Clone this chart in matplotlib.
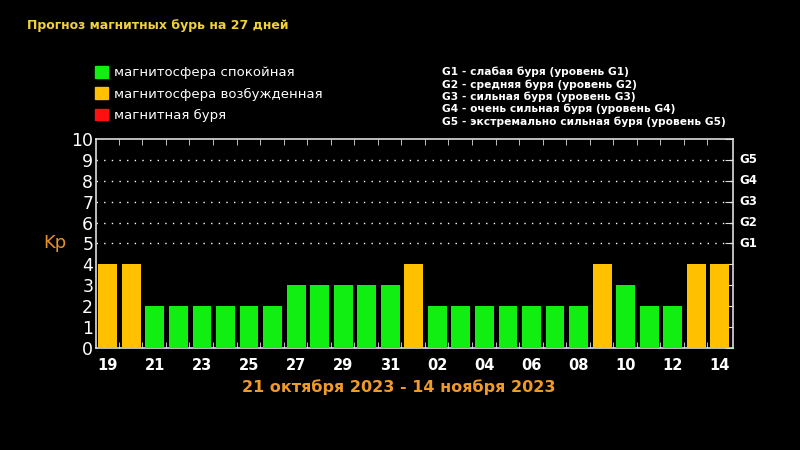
import matplotlib.pyplot as plt
from matplotlib.patches import Patch

# days from 19 Oct to 14 Nov 2023
days = ['19', '20', '21', '22', '23', '24', '25', '26', '27', '28', '29', '30', '31',
        '01', '02', '03', '04', '05', '06', '07', '08', '09', '10', '11', '12', '13', '14']
kp = [4, 4, 2, 2, 2, 2, 2, 2, 3, 3, 3, 3, 3,
      4, 2, 2, 2, 2, 2, 2, 2, 4, 3, 2, 2, 4, 4]
g_levels = ['G1', 'G2', 'G3', 'G4', 'G5']
g_kp = [5, 6, 7, 8, 9]
g_text = ['G1 - слабая буря (уровень G1)',
          'G2 - средняя буря (уровень G2)',
          'G3 - сильная буря (уровень G3)',
          'G4 - очень сильная буря (уровень G4)',
          'G5 - экстремально сильная буря (уровень G5)']

green = '#11ee11'
orange = '#ffc000'
red = '#ff1010'

def bar_color(v):
    if v >= 5:
        return red
    if v >= 4:
        return orange
    return green

fig = plt.figure(figsize=(8, 4.5), dpi=100, facecolor='black')
ax = fig.add_axes([0.12, 0.227, 0.796, 0.464])
ax.set_facecolor('black')

x = list(range(len(days)))
ax.bar(x, kp, width=0.8, color=[bar_color(v) for v in kp], zorder=3)

# dotted grid only at storm levels
ax.hlines(g_kp, -0.5, 26.55, colors='white', linestyles=(0, (1, 4.5)), linewidth=1.0, zorder=1)
for lvl, k in zip(g_levels, g_kp):
    ax.text(26.85, k, lvl, color='white', fontsize=8.5, fontweight='bold',
            va='center', ha='left')

ax.set_xlim(-0.5, 26.55)
ax.set_ylim(0, 10)

for s in ax.spines.values():
    s.set_color('#dddddd')
    s.set_linewidth(1.2)

ax.set_yticks(range(0, 11))
ax.set_yticklabels([str(i) for i in range(0, 11)], color='white', fontsize=12.5)
ax.tick_params(axis='y', which='major', left=False, right=True, direction='in',
               length=6, color='#dddddd', pad=2)
ax.set_xticks(x[::2])
ax.set_xticklabels(days[::2], color='white', fontsize=10.5, fontweight='bold')
ax.tick_params(axis='x', which='major', length=0, pad=7)
ax.set_xticks([i + 0.47 for i in x[:-1]], minor=True)
ax.tick_params(axis='x', which='minor', top=True, bottom=True, direction='in',
               length=4, color='#dddddd')

ax.set_ylabel('Kp', color='#e8902a', fontsize=13, rotation=0, va='center')
ax.yaxis.set_label_coords(-0.065, 0.5)

fig.text(0.034, 0.944, 'Прогноз магнитных бурь на 27 дней', color='#f2d03a',
         fontsize=9, fontweight='bold', va='center')

handles = [Patch(color=green), Patch(color=orange), Patch(color=red)]
labels = ['магнитосфера спокойная', 'магнитосфера возбужденная', 'магнитная буря']
leg = fig.legend(handles, labels, loc='upper left', bbox_to_anchor=(0.104, 0.88),
                 frameon=False, handlelength=1.0, handleheight=1.0, handletextpad=0.45,
                 labelspacing=0.6, fontsize=9.5)
for t in leg.get_texts():
    t.set_color('white')

fig.text(0.553, 0.785, '\n'.join(g_text), color='white', fontsize=7.7,
         fontweight='bold', va='center', ha='left', linespacing=1.22)

fig.text(0.498, 0.14, '21 октября 2023 - 14 ноября 2023', color='#f09a28',
         fontsize=11.5, fontweight='bold', ha='center', va='center')

fig.savefig('out.png', dpi=100, facecolor='black')
